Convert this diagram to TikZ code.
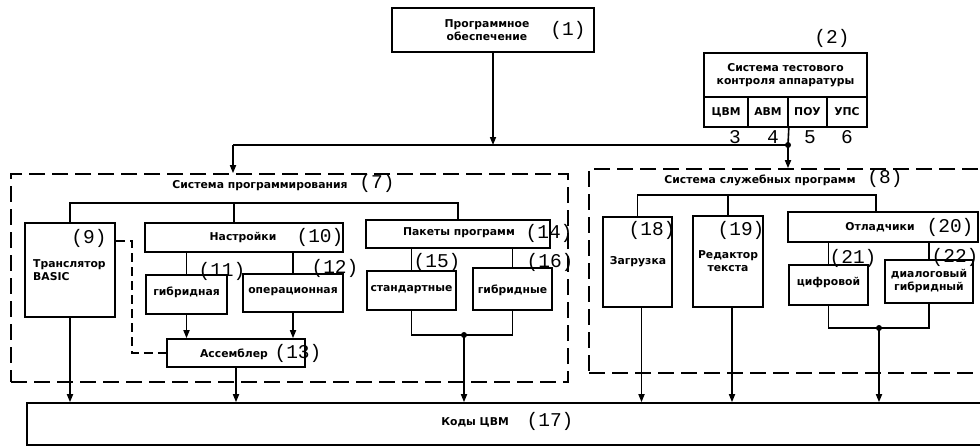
\documentclass[tikz,border=0pt]{standalone}
\usepackage{fontspec}
\setmainfont{DejaVu Sans}
\newfontfamily\numf{Liberation Mono}
\usetikzlibrary{arrows.meta}
\tikzset{
  box/.style={draw, line width=1.6pt, inner sep=0pt},
  grp/.style={draw, line width=1.6pt, dash pattern=on 16pt off 7pt, inner sep=0pt},
  lbl/.style={inner sep=0pt, font=\bfseries\fontsize{10.8}{13.5}\selectfont, align=center},
  num/.style={inner sep=0pt, font=\numf\fontsize{19.5}{19.5}\selectfont},
  ln/.style={line width=1.6pt},
  dsh/.style={line width=1.6pt, dash pattern=on 9pt off 5pt},
  arr/.style={line width=1.6pt, -{Triangle[length=8pt,width=6pt]}},
}
\begin{document}
\begin{tikzpicture}[x=1pt,y=-1pt]
\useasboundingbox (0,0) rectangle (980,447);
% boxes
\node[box, minimum width=202pt, minimum height=44pt] (b1) at (493,30) {};
\node[box, minimum width=163pt, minimum height=44pt] (b2) at (785.5,75) {};
\node[box, minimum width=44pt, minimum height=30pt] (c3) at (726,112) {};
\node[box, minimum width=40pt, minimum height=30pt] (c4) at (768,112) {};
\node[box, minimum width=39pt, minimum height=30pt] (c5) at (807.5,112) {};
\node[box, minimum width=40pt, minimum height=30pt] (c6) at (847,112) {};
\node[grp, minimum width=557pt, minimum height=208pt] (g7) at (289.5,278) {};
\node[grp, minimum width=403pt, minimum height=204pt] (g8) at (790.5,271) {};
\node[box, minimum width=90pt, minimum height=94pt] (b9) at (70,270) {};
\node[box, minimum width=198pt, minimum height=29pt] (b10) at (244,237.5) {};
\node[box, minimum width=81pt, minimum height=39pt] (b11) at (186.5,294.5) {};
\node[box, minimum width=100pt, minimum height=38pt] (b12) at (293,293) {};
\node[box, minimum width=138pt, minimum height=28pt] (b13) at (236,353) {};
\node[box, minimum width=184pt, minimum height=28pt] (b14) at (458,234) {};
\node[box, minimum width=89pt, minimum height=39pt] (b15) at (411.5,290.5) {};
\node[box, minimum width=79pt, minimum height=42pt] (b16) at (512.5,289) {};
\node[box, minimum width=965pt, minimum height=42pt] (b17) at (509.5,424) {};
\node[box, minimum width=69pt, minimum height=90pt] (b18) at (637.5,262) {};
\node[box, minimum width=70pt, minimum height=91pt] (b19) at (728,261.5) {};
\node[box, minimum width=190pt, minimum height=30pt] (b20) at (883,227) {};
\node[box, minimum width=79pt, minimum height=40pt] (b21) at (828.5,285) {};
\node[box, minimum width=88pt, minimum height=43pt] (b22) at (929,281.5) {};
% texts
\node[lbl] (t1) at (487,30) {Программное\\обеспечение};
\node[num] (n1) at (568,30) {(1)};
\node[lbl] (t2) at (785.5,75) {Система тестового\\контроля аппаратуры};
\node[num] (n2) at (832,38) {(2)};
\node[lbl] (t3) at (c3) {ЦВМ};
\node[lbl] (t4) at (c4) {АВМ};
\node[lbl] (t5) at (c5) {ПОУ};
\node[lbl] (t6) at (c6) {УПС};
\node[num] (n3) at (735,137) {3};
\node[num] (n4) at (773,137) {4};
\node[num] (n5) at (810,137) {5};
\node[num] (n6) at (847,137) {6};
\node[lbl] (t7) at (260,186) {Система программирования};
\node[num] (n7) at (377,183) {(7)};
\node[lbl] (t8) at (760,180) {Система служебных программ};
\node[num] (n8) at (885,178) {(8)};
\node[num] (n9) at (89,238) {(9)};
\node[lbl, align=left, anchor=west] (t9) at (33,270) {Транслятор\\BASIC};
\node[lbl] (t10) at (243,237) {Настройки};
\node[num] (n10) at (320,237) {(10)};
\node[num] (n11) at (222,271) {(11)};
\node[lbl] (t11) at (186.5,292) {гибридная};
\node[num] (n12) at (335,268) {(12)};
\node[lbl] (t12) at (293,292) {операционная};
\node[lbl] (t13) at (234,354) {Ассемблер};
\node[num] (n13) at (298,353) {(13)};
\node[lbl] (t14) at (459,233) {Пакеты программ};
\node[num] (n14) at (549,233) {(14)};
\node[num] (n15) at (437,262) {(15)};
\node[lbl] (t15) at (411.5,290) {стандартные};
\node[num] (n16) at (550,262) {(16)};
\node[lbl] (t16) at (512.5,290) {гибридные};
\node[lbl] (t17) at (475,422) {Коды ЦВМ};
\node[num] (n17) at (550,421) {(17)};
\node[num] (n18) at (652,230) {(18)};
\node[lbl] (t18) at (638,262) {Загрузка};
\node[num] (n19) at (741,230) {(19)};
\node[lbl] (t19) at (728,261) {Редактор\\текста};
\node[lbl] (t20) at (880,227) {Отладчики};
\node[num] (n20) at (950,227) {(20)};
\node[num] (n21) at (853,258) {(21)};
\node[lbl] (t21) at (828.5,282) {цифровой};
\node[num] (n22) at (955,257) {(22)};
\node[lbl] (t22) at (929,281) {диалоговый\\гибридный};
% top connectors
\coordinate (j0) at (493,145);
\coordinate (j1) at (788,145);
\coordinate (jl) at (233,145);
\draw[arr] (b1.south) -- (j0);
\draw[ln] (j1) -- (jl);
\draw[arr] (jl) -- (jl |- g7.north);
\draw[ln] (c4.south east) -- (j1);
\fill (j1) circle (3pt);
\draw[arr] (j1) -- (j1 |- g8.north);
% group 7
\coordinate (r7) at (0,203);
\draw[ln] (b9.north) |- (r7 -| b14.north) -- (b14.north);
\draw[ln] ([xshift=-10pt]b10.north) -- ([xshift=-10pt]b10.north |- r7);
\draw[ln] (b11.north) -- (b11.north |- b10.south);
\draw[ln] (b12.north) -- (b12.north |- b10.south);
\draw[arr] (b11.south) -- (b11.south |- b13.north);
\draw[arr] (b12.south) -- (b12.south |- b13.north);
\draw[dsh] ([yshift=29pt]b9.east) -- ++(16,0) |- (b13.west);
\draw[arr] (b9.south) -- (b9.south |- b17.north);
\draw[arr] (b13.south) -- (b13.south |- b17.north);
\draw[ln] (b15.north) -- (b15.north |- b14.south);
\draw[ln] (b16.north) -- (b16.north |- b14.south);
\coordinate (k15) at (464,335);
\draw[ln] (b15.south) |- (k15) -| (b16.south);
\fill (k15) circle (3pt);
\draw[arr] (k15) -- (k15 |- b17.north);
% group 8
\coordinate (r8) at (0,195);
\draw[ln] (b18.north) |- (r8 -| 876,0) -- ([xshift=-7pt]b20.north);
\draw[ln] (b19.north) -- (b19.north |- r8);
\draw[ln] (b21.north) -- (b21.north |- b20.south);
\draw[ln] (b22.north) -- (b22.north |- b20.south);
\coordinate (k20) at (879,328);
\draw[ln] (b21.south) |- (k20) -| (b22.south);
\fill (k20) circle (3pt);
\draw[arr] (k20) -- (k20 |- b17.north);
\draw[arr] ([xshift=4pt]b18.south) -- ([xshift=4pt]b18.south |- b17.north);
\draw[arr] ([xshift=4pt]b19.south) -- ([xshift=4pt]b19.south |- b17.north);
\end{tikzpicture}
\end{document}
